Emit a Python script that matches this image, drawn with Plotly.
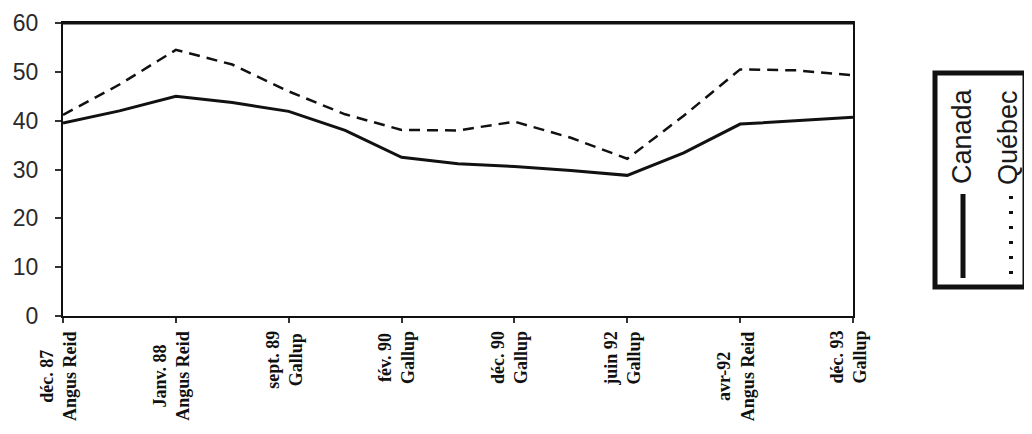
import plotly.graph_objects as go

# ---- data ----
categories = ["déc. 87<br>Angus Reid", "Janv. 88<br>Angus Reid", "sept. 89<br>Gallup",
              "fév. 90<br>Gallup", "déc. 90<br>Gallup", "juin 92<br>Gallup",
              "avr-92<br>Angus Reid", "déc. 93<br>Gallup"]
# line points: one at each labelled survey and one midway between labels
canada = [39.5, 42.0, 45.0, 43.7, 41.9, 38.0, 32.5, 31.2, 30.6, 29.8, 28.8, 33.4, 39.3, 40.0, 40.7]
quebec = [41.2, 47.4, 54.5, 51.5, 46.0, 41.3, 38.1, 38.0, 39.8, 36.5, 32.2, 41.0, 50.5, 50.3, 49.3]
y_ticks = [0, 10, 20, 30, 40, 50, 60]
series_names = ["Canada", "Québec"]

x_pts = [i / 2 for i in range(len(canada))]
x_cat = list(range(len(categories)))

# page body margin offset (the figure div sits 8px from the window edge)
OFF = 8
# plot area in window pixels
L, R, T, B = 63, 853, 23, 316
W, H = R - L, B - T
def px(x):
    return (x - L) / W
def py(y):
    return (B - y) / H

fig = go.Figure()
fig.add_trace(go.Scatter(x=x_pts, y=canada, mode="lines", name=series_names[0],
                         line=dict(color="#111111", width=3), showlegend=False))
fig.add_trace(go.Scatter(x=x_pts, y=quebec, mode="lines", name=series_names[1],
                         line=dict(color="#111111", width=2.5, dash="11px,7px"), showlegend=False))

# category labels (rotated, lines centred)
for i, lab in enumerate(categories):
    fig.add_annotation(x=i, xref="x", y=0, yref="paper", yshift=-13, xshift=-5,
                       text="<b>" + lab + "</b>", textangle=-90, showarrow=False,
                       xanchor="center", yanchor="top", align="center",
                       font=dict(family="Liberation Serif", size=18, color="#111111"))

# legend box drawn manually (rotated text)
fig.add_shape(type="rect", xref="paper", yref="paper",
              x0=px(935), x1=px(1025), y0=py(73), y1=py(287),
              line=dict(color="#111111", width=5), fillcolor="white")
fig.add_shape(type="line", xref="paper", yref="paper",
              x0=px(963), x1=px(963), y0=py(194), y1=py(278),
              line=dict(color="#111111", width=5))
fig.add_shape(type="line", xref="paper", yref="paper",
              x0=px(1011), x1=px(1011), y0=py(196), y1=py(276),
              line=dict(color="#111111", width=4, dash="3px,12px"))
fig.add_annotation(x=px(962), y=py(136), xref="paper", yref="paper",
                   text=series_names[0], textangle=-90, showarrow=False,
                   xanchor="center", yanchor="middle",
                   font=dict(family="Liberation Sans", size=27, color="#1a1a1a"))
fig.add_annotation(x=px(1008), y=py(138), xref="paper", yref="paper",
                   text=series_names[1], textangle=-90, showarrow=False,
                   xanchor="center", yanchor="middle",
                   font=dict(family="Liberation Sans", size=27, color="#1a1a1a"))

# thicker top frame line
fig.add_shape(type="line", xref="paper", yref="paper", x0=0, x1=1, y0=1, y1=1,
              line=dict(color="#111111", width=3))

fig.update_layout(
    template="none",
    width=1032 - OFF, height=434 - OFF,
    margin=dict(l=L - OFF, r=1032 - R, t=T - OFF, b=434 - B, autoexpand=False),
    paper_bgcolor="white", plot_bgcolor="white",
    xaxis=dict(range=[0, len(categories) - 1], tickvals=x_cat, ticktext=[""] * len(categories),
               automargin=False,
               showgrid=False, zeroline=False, showline=True, linecolor="#111111",
               linewidth=2, mirror=True, ticks="outside", ticklen=5, tickwidth=1.5,
               tickcolor="#333333"),
    yaxis=dict(range=[0, 60], tickvals=y_ticks, showgrid=False, zeroline=False,
               automargin=False,
               showline=True, linecolor="#111111", linewidth=2, mirror=True,
               ticks="outside", ticklen=6, tickwidth=1.5, tickcolor="#333333",
               ticklabelstandoff=12,
               tickfont=dict(family="Liberation Sans", size=23, color="#2a2a2a")),
)

fig.write_html("out.html")
